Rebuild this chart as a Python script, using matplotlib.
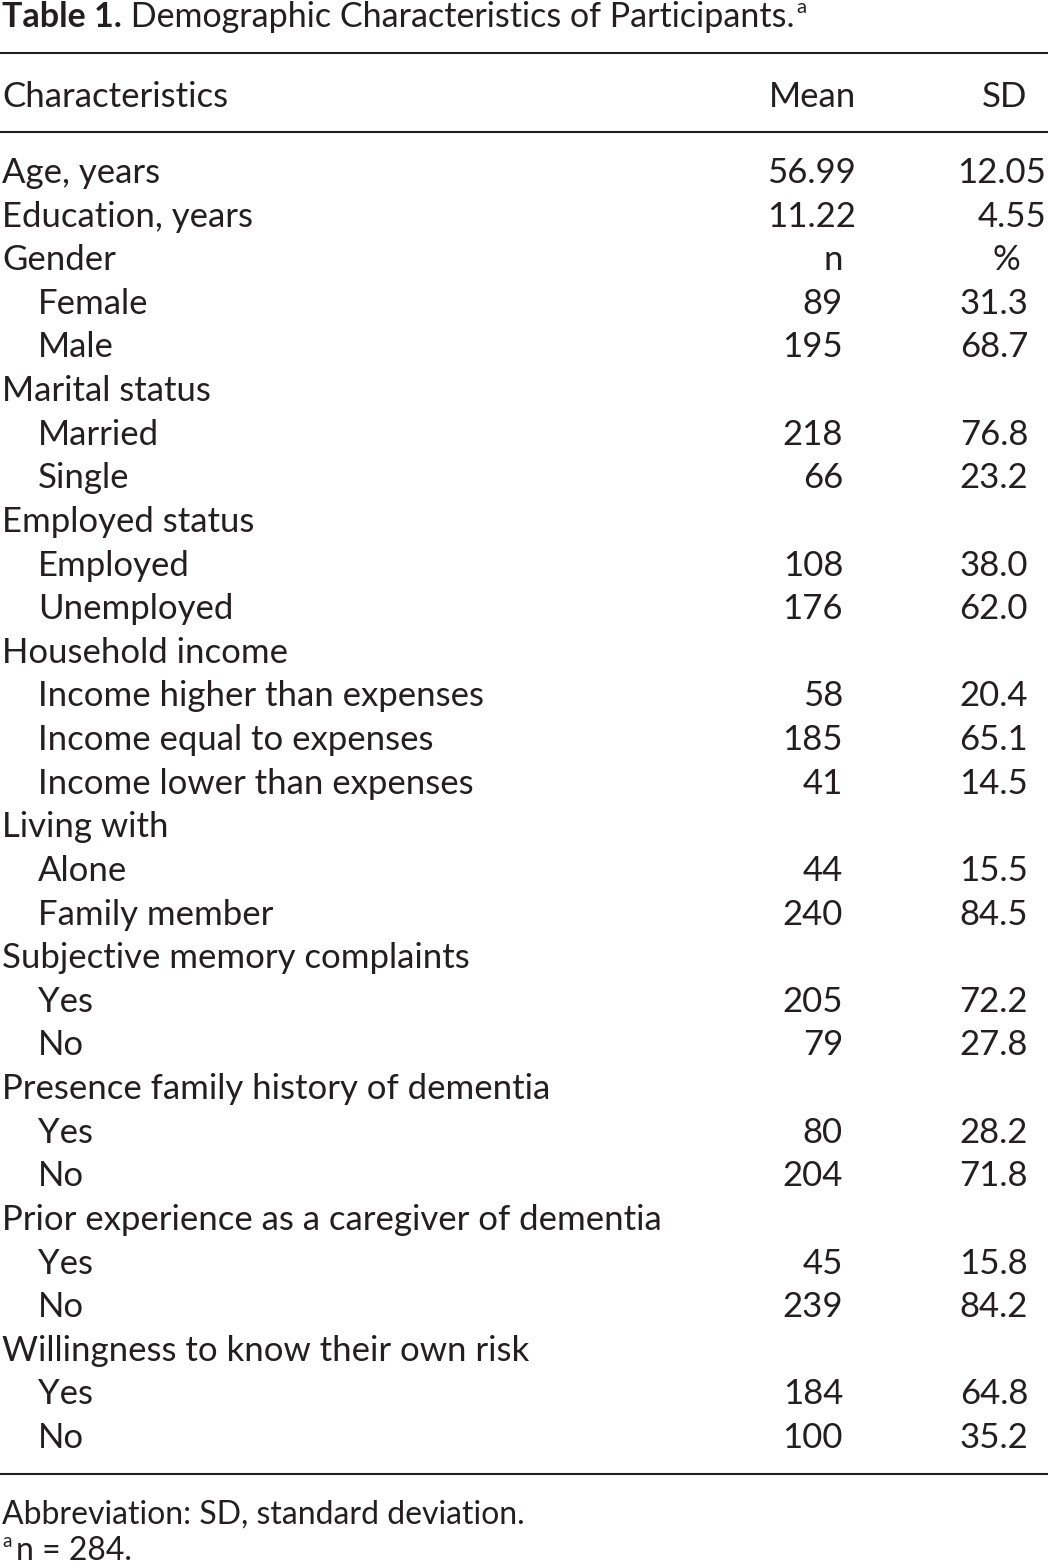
import matplotlib
matplotlib.use("Agg")
import matplotlib.pyplot as plt

# ---- data ----
labels = ["Age, years", "Education, years", "Gender", "Female", "Male",
          "Marital status", "Married", "Single",
          "Employed status", "Employed", "Unemployed",
          "Household income", "Income higher than expenses", "Income equal to expenses",
          "Income lower than expenses",
          "Living with", "Alone", "Family member",
          "Subjective memory complaints", "Yes", "No",
          "Presence family history of dementia", "Yes", "No",
          "Prior experience as a caregiver of dementia", "Yes", "No",
          "Willingness to know their own risk", "Yes", "No"]
indent = [0, 0, 0, 1, 1,
          0, 1, 1,
          0, 1, 1,
          0, 1, 1, 1,
          0, 1, 1,
          0, 1, 1,
          0, 1, 1,
          0, 1, 1,
          0, 1, 1]
col1 = ["56.99", "11.22", "n", "89", "195",
        "", "218", "66",
        "", "108", "176",
        "", "58", "185", "41",
        "", "44", "240",
        "", "205", "79",
        "", "80", "204",
        "", "45", "239",
        "", "184", "100"]
col2 = ["12.05", "4.55", "%", "31.3", "68.7",
        "", "76.8", "23.2",
        "", "38.0", "62.0",
        "", "20.4", "65.1", "14.5",
        "", "15.5", "84.5",
        "", "72.2", "27.8",
        "", "28.2", "71.8",
        "", "15.8", "84.2",
        "", "64.8", "35.2"]
headers = ["Characteristics", "Mean", "SD"]
title_bold = "Table 1."
title_rest = " Demographic Characteristics of Participants."
footnotes = ["Abbreviation: SD, standard deviation.", "n = 284."]

W, H = 1048, 1563
fig = plt.figure(figsize=(W / 100, H / 100), dpi=100)
ax = fig.add_axes([0, 0, 1, 1])
ax.set_xlim(0, W)
ax.set_ylim(H, 0)
ax.axis("off")

FONT = "Lato"
col = "#231f20"
renderer = fig.canvas.get_renderer()
CAP = 0.7165  # Lato cap height / em


def width_of(s, fs, weight="normal"):
    t = ax.text(0, 0, s, fontsize=fs, family=FONT, fontweight=weight)
    w = t.get_window_extent(renderer).width
    t.remove()
    return w


def cap_fit(cap_px):
    return cap_px / CAP * 72 / 100


BASE = 20.0
FS_BODY = BASE * 661 / width_of(labels[24], BASE)
fs_tw = BASE * 823 / (width_of(title_bold, BASE, "bold") + width_of(title_rest, BASE))
FS_TITLE = (fs_tw * cap_fit(23.5)) ** 0.5
fs_fw = BASE * 500 / width_of(footnotes[0], BASE)
FS_FOOT = (fs_fw * cap_fit(24)) ** 0.5

# title
t1 = ax.text(2, 27, title_bold, fontsize=FS_TITLE, fontweight="bold", family=FONT,
             va="baseline", ha="left", color=col)
x_after = t1.get_window_extent(renderer).x1
t2 = ax.text(x_after, 27, title_rest, fontsize=FS_TITLE, family=FONT,
             va="baseline", ha="left", color=col)
x_end = t2.get_window_extent(renderer).x1
ax.text(x_end + 2, 13, "a", fontsize=FS_TITLE * 0.6, family=FONT, va="baseline",
        ha="left", color=col)

# rules
for y in (53, 132, 1474):
    ax.plot([0, W], [y, y], color=col, lw=1.5, solid_capstyle="butt")

# header
ax.text(2, 107, headers[0], fontsize=FS_BODY, family=FONT, va="baseline", ha="left", color=col)
ax.text(856, 107, headers[1], fontsize=FS_BODY, family=FONT, va="baseline", ha="right", color=col)
ax.text(1027, 107, headers[2], fontsize=FS_BODY, family=FONT, va="baseline", ha="right", color=col)

y0, dy = 183, 43.62
for i, lab in enumerate(labels):
    y = y0 + i * dy
    ax.text(2 + 36 * indent[i], y, lab, fontsize=FS_BODY, family=FONT,
            va="baseline", ha="left", color=col)
    v1 = col1[i]
    if v1:
        if v1 == "n":
            ax.text(833, y, v1, fontsize=FS_BODY, family=FONT, va="baseline", ha="center", color=col)
        else:
            x1 = 856 if "." in v1 else 843
            ax.text(x1, y, v1, fontsize=FS_BODY, family=FONT, va="baseline", ha="right", color=col)
    v2 = col2[i]
    if v2:
        if v2 == "%":
            ax.text(1006, y, v2, fontsize=FS_BODY, family=FONT, va="baseline", ha="center", color=col)
        else:
            x2 = 1046 if len(v2.split(".")[1]) == 2 else 1028
            ax.text(x2, y, v2, fontsize=FS_BODY, family=FONT, va="baseline", ha="right", color=col)

# footnotes
ax.text(2, 1524, footnotes[0], fontsize=FS_FOOT, family=FONT, va="baseline", ha="left", color=col)
ax.text(2, 1547, "a", fontsize=FS_FOOT * 0.6, family=FONT, va="baseline", ha="left", color=col)
ax.text(16, 1560, footnotes[1], fontsize=FS_FOOT, family=FONT, va="baseline", ha="left", color=col)

fig.savefig("out.png", dpi=100)
